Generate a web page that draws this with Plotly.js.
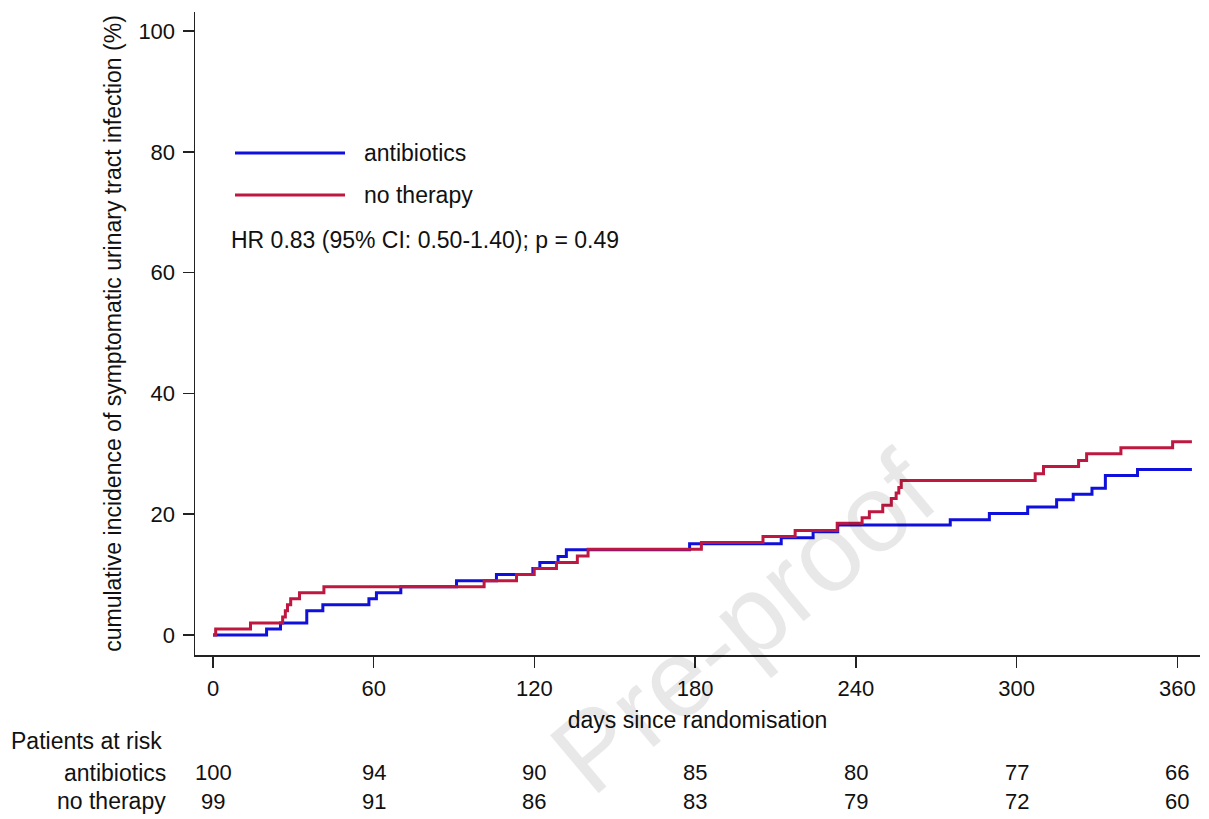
<!DOCTYPE html>
<html>
<head>
<meta charset="utf-8">
<script src="https://cdn.plot.ly/plotly-3.0.1.min.js"></script>
<style>
  html, body { margin: 0; padding: 0; background: #ffffff; }
  #chart { width: 1209px; height: 819px; }
</style>
</head>
<body>
<div id="chart"></div>
<script>
// ---- data ----
const seriesNames = ["antibiotics", "no therapy"];

const antibioticsDays = [0, 20, 25.2, 35, 41, 58.2, 61, 70.1, 90.9, 105.8, 119.4, 122, 128.8, 131.9, 177.9, 212.1, 224, 233.2, 275.2, 289.8, 304.1, 314.9, 321.1, 328.1, 333.1, 345.1, 365.4];
const antibioticsPct  = [0, 1, 2, 4, 5, 6, 7, 8, 9, 10, 11, 12, 13, 14.1, 15.1, 16.1, 17.1, 18.2, 19.1, 20.1, 21.2, 22.4, 23.3, 24.3, 26.4, 27.4, 27.4];

const noTherapyDays = [0, 1, 14, 26, 27, 27.8, 29, 32.3, 41.4, 101.2, 113.3, 119.9, 128.2, 136, 140, 182.3, 205.3, 217.3, 233, 242.3, 245, 250, 253.2, 255, 256, 256.9, 306.9, 310, 323.1, 326.1, 338.9, 358.2, 365.4];
const noTherapyPct  = [0, 1, 2, 3, 4, 5, 6, 7, 8, 9, 10, 11, 12, 13.1, 14.2, 15.3, 16.3, 17.3, 18.5, 19.4, 20.4, 21.5, 22.6, 23.5, 24.4, 25.6, 26.7, 27.9, 28.9, 30.0, 31.0, 32.0, 32.0];

const xTickVals = [0, 60, 120, 180, 240, 300, 360];
const yTickVals = [0, 20, 40, 60, 80, 100];
const riskAntibiotics = [100, 94, 90, 85, 80, 77, 66];
const riskNoTherapy   = [99, 91, 86, 83, 79, 72, 60];

const hrText = "HR 0.83 (95% CI: 0.50-1.40); p = 0.49";
const xTitle = "days since randomisation";
const yTitle = "cumulative incidence of symptomatic urinary tract infection (%)";
const riskHeader = "Patients at risk";
const watermark = "Pre-proof";

// ---- styles ----
const BLUE = "#1010dc";
const RED = "#bf1840";
const FONT = "Liberation Sans, Arial, Helvetica, sans-serif";
const FS = 23;     // words
const FN = 22;     // numbers
const TXT = "#111111";

const traces = [
  { x: antibioticsDays, y: antibioticsPct, mode: "lines", line: { shape: "hv", color: BLUE, width: 3 }, name: seriesNames[0], showlegend: false, hoverinfo: "x+y+name" },
  { x: noTherapyDays, y: noTherapyPct, mode: "lines", line: { shape: "hv", color: RED, width: 3 }, name: seriesNames[1], showlegend: false, hoverinfo: "x+y+name" }
];

// plot area: left 195, right 1200, top 12, bottom 655 (px)
const L = 195, R = 1209 - 1200, T = 12, B = 819 - 655;
const PW = 1209 - L - R, PH = 819 - T - B;
const px2paperX = px => (px - L) / PW;
const py2paperY = py => (819 - B - py) / PH;

const annotations = [];
// legend texts
annotations.push({ xref: "paper", yref: "paper", x: px2paperX(362), y: py2paperY(153), xanchor: "left", yanchor: "middle", text: seriesNames[0], showarrow: false, font: { family: FONT, size: FS, color: TXT } });
annotations.push({ xref: "paper", yref: "paper", x: px2paperX(362), y: py2paperY(195), xanchor: "left", yanchor: "middle", text: seriesNames[1], showarrow: false, font: { family: FONT, size: FS, color: TXT } });
annotations.push({ xref: "paper", yref: "paper", x: px2paperX(229), y: py2paperY(240), xanchor: "left", yanchor: "middle", text: hrText, showarrow: false, font: { family: FONT, size: FS, color: TXT } });

// risk table
annotations.push({ xref: "paper", yref: "paper", x: px2paperX(9), y: py2paperY(741), xanchor: "left", yanchor: "middle", text: riskHeader, showarrow: false, font: { family: FONT, size: FS, color: TXT } });
annotations.push({ xref: "paper", yref: "paper", x: px2paperX(168), y: py2paperY(773), xanchor: "right", yanchor: "middle", text: seriesNames[0], showarrow: false, font: { family: FONT, size: FS, color: TXT } });
annotations.push({ xref: "paper", yref: "paper", x: px2paperX(168), y: py2paperY(801), xanchor: "right", yanchor: "middle", text: seriesNames[1], showarrow: false, font: { family: FONT, size: FS, color: TXT } });
xTickVals.forEach((d, i) => {
  annotations.push({ xref: "x", yref: "paper", x: d, y: py2paperY(773), xanchor: "center", yanchor: "middle", text: String(riskAntibiotics[i]), showarrow: false, font: { family: FONT, size: FN, color: TXT } });
  annotations.push({ xref: "x", yref: "paper", x: d, y: py2paperY(801), xanchor: "center", yanchor: "middle", text: String(riskNoTherapy[i]), showarrow: false, font: { family: FONT, size: FN, color: TXT } });
});

// watermark
annotations.push({ xref: "paper", yref: "paper", x: px2paperX(742), y: py2paperY(622), xanchor: "center", yanchor: "middle", text: watermark, textangle: -40, showarrow: false, font: { family: FONT, size: 110, color: "rgba(0,0,0,0.09)" } });

const shapes = [
  { type: "line", xref: "paper", yref: "paper", x0: px2paperX(235), x1: px2paperX(345), y0: py2paperY(153), y1: py2paperY(153), line: { color: BLUE, width: 3 } },
  { type: "line", xref: "paper", yref: "paper", x0: px2paperX(235), x1: px2paperX(345), y0: py2paperY(195), y1: py2paperY(195), line: { color: RED, width: 3 } }
];

const pxPerDay = 2.679, zeroX = 213;
const xMin = (L - zeroX) / pxPerDay;
const xMax = (1200 - zeroX) / pxPerDay;
const pxPerPct = 6.04, zeroY = 635;
const yMin = (zeroY - 655) / pxPerPct;
const yMax = (zeroY - 12) / pxPerPct;

const layout = {
  width: 1209, height: 819,
  margin: { l: L, r: R, t: T, b: B, pad: 0 },
  paper_bgcolor: "#ffffff", plot_bgcolor: "#ffffff",
  font: { family: FONT, size: FS, color: TXT },
  showlegend: false,
  xaxis: {
    range: [xMin, xMax], tickvals: xTickVals, ticktext: xTickVals.map(String),
    ticks: "outside", ticklen: 11, tickwidth: 1.5, tickcolor: "#222",
    showline: true, linecolor: "#222", linewidth: 1.5, showgrid: false, zeroline: false,
    tickfont: { family: FONT, size: FN, color: TXT },
    ticklabelstandoff: 2,
    title: { text: xTitle, font: { family: FONT, size: FS, color: TXT }, standoff: 12 }
  },
  yaxis: {
    range: [yMin, yMax], tickvals: yTickVals, ticktext: yTickVals.map(String),
    ticks: "outside", ticklen: 11, tickwidth: 1.5, tickcolor: "#222",
    showline: true, linecolor: "#222", linewidth: 1.5, showgrid: false, zeroline: false,
    tickfont: { family: FONT, size: FN, color: TXT },
    ticklabelstandoff: 3,
    title: { text: yTitle, font: { family: FONT, size: FS, color: TXT }, standoff: 10 }
  },
  annotations: annotations,
  shapes: shapes
};

Plotly.newPlot("chart", traces, layout, { displayModeBar: false, staticPlot: true });
</script>
</body>
</html>
